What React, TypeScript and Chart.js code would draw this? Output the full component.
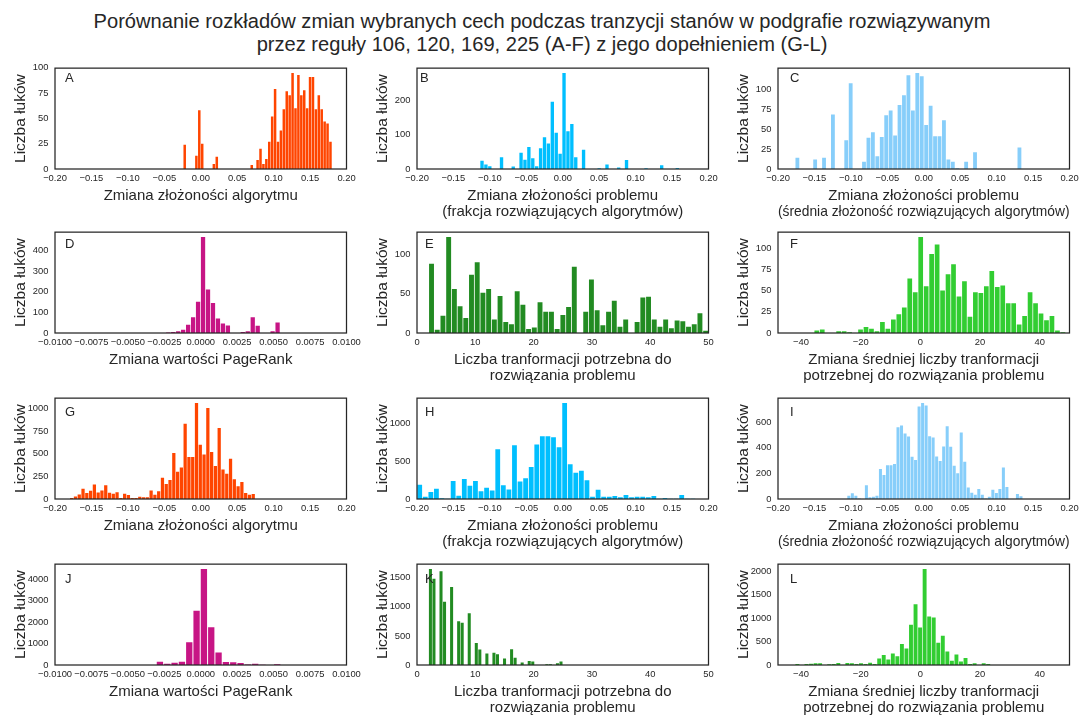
import React, { useEffect, useRef } from "react";
import { Chart, registerables } from "chart.js";

Chart.register(...registerables);

const FONT = "'Liberation Sans', Arial, 'DejaVu Sans', sans-serif";
const TEXT = "#262626";
const FRAME = "#262626";

// ---------- texts ----------
const figureTitle = [
  "Porównanie rozkładów zmian wybranych cech podczas tranzycji stanów w podgrafie rozwiązywanym",
  "przez reguły 106, 120, 169, 225 (A-F) z jego dopełnieniem (G-L)",
];
const yLabel = "Liczba łuków";
const xLabelAlg = ["Zmiana złożoności algorytmu"];
const xLabelFrac = ["Zmiana złożoności problemu", "(frakcja rozwiązujących algorytmów)"];
const xLabelMean = ["Zmiana złożoności problemu", "(średnia złożoność rozwiązujących algorytmów)"];
const xLabelPR = ["Zmiana wartości PageRank"];
const xLabelSteps = ["Liczba tranformacji potrzebna do", "rozwiązania problemu"];
const xLabelStepsDelta = ["Zmiana średniej liczby tranformacji", "potrzebnej do rozwiązania problemu"];

// ---------- tick labels ----------
const ticksDelta = [-0.2, -0.15, -0.1, -0.05, 0, 0.05, 0.1, 0.15, 0.2];
const ticksPR = [-0.01, -0.0075, -0.005, -0.0025, 0, 0.0025, 0.005, 0.0075, 0.01];
const ticksSteps = [0, 10, 20, 30, 40, 50];
const ticksStepsDelta = [-40, -20, 0, 20, 40];

const yTicksA = [0, 25, 50, 75, 100];
const yTicksB = [0, 100, 200];
const yTicksC = [0, 25, 50, 75, 100];
const yTicksD = [0, 100, 200, 300, 400];
const yTicksE = [0, 50, 100];
const yTicksF = [0, 25, 50, 75, 100];
const yTicksG = [0, 250, 500, 750, 1000];
const yTicksH = [0, 500, 1000];
const yTicksI = [0, 200, 400, 600];
const yTicksJ = [0, 1000, 2000, 3000, 4000];
const yTicksK = [0, 500, 1000, 1500];
const yTicksL = [0, 500, 1000, 1500, 2000];

// ---------- histogram data (first bin centre, bin width, counts) ----------
const binStartA = -0.022, binWidthA = 0.004;
const countsA = [24,0,0,0,13,58,25,0,0,0,5,12,0,0,0,0,0,0,0,0,0,0,0,4,0,9,20,5,10,27,52,79,27,38,59,77,73,95,60,93,73,78,60,91,91,59,73,59,47,45,27];

const binStartB = -0.1108, binWidthB = 0.00536;
const countsB = [24,13,8,0,0,34,0,0,7,0,47,27,64,31,8,60,92,74,195,105,44,279,110,131,34,0,56,0,0,0,2,0,13,0,0,4,0,26,0,0,0,0,2,0,0,0,11,0,0,0,3];

const binStartC = -0.1734, binWidthC = 0.006094;
const countsC = [14,0,0,0,12,0,14,0,68,0,0,36,107,0,0,9,39,46,16,40,67,73,42,80,92,117,73,120,116,55,79,41,41,61,12,9,1,0,9,0,21,0,0,0,0,0,0,0,0,0,27];

const binStartD = -0.00223, binWidthD = 0.000341;
const countsD = [3,5,8,16,40,77,152,467,211,146,70,46,37,0,0,5,8,77,35,0,0,8,51];

const binStartE = 2.49, binWidthE = 0.9796;
const countsE = [88,4,22,122,56,34,19,74,90,51,56,17,47,14,11,53,36,5,7,39,27,27,5,23,33,84,0,27,68,29,10,27,41,8,17,0,14,45,46,17,8,17,6,16,15,8,11,25,3];

const binStartF = -34.7, binWidthF = 1.833;
const countsF = [3,4,0,0,2,2,1,0,4,7,5,2,13,5,16,22,30,64,48,113,55,93,104,50,69,81,43,61,19,48,47,55,73,54,56,35,35,10,20,48,35,23,15,20,3,1];

const binStartG = -0.1771, binWidthG = 0.00519;
const countsG = [11,29,51,113,65,91,160,73,95,153,69,58,76,11,58,44,11,11,25,18,18,95,47,87,236,167,211,509,302,349,833,465,465,1062,600,491,1007,520,364,785,327,280,444,218,142,189,65,47,55];

const binStartH = -0.1963, binWidthH = 0.00765;
const countsH = [187,30,91,135,9,4,239,43,265,174,239,104,148,113,657,183,126,709,230,274,422,722,830,830,817,683,1270,461,348,374,248,30,122,30,30,39,22,52,22,30,30,22,39,4,13,4,4,52,4,4];

const binStartI = -0.1028, binWidthI = 0.00482;
const countsI = [26,44,26,3,0,108,13,18,26,234,188,263,263,273,559,574,510,487,330,304,721,749,729,489,479,332,296,410,567,407,260,201,518,291,90,49,33,77,33,3,18,72,46,77,245,93,0,0,39,21];

const binStartJ = -0.002801, binWidthJ = 0.000503;
const countsJ = [154,60,108,154,1062,2538,4492,1769,585,138,123,92,20,60,10,0,31];

const binStartK = 2.3026, binWidthK = 0.6053;
const countsK = [1652,1483,0,1613,1087,0,1341,0,753,725,0,889,0,379,266,0,198,0,209,187,0,113,0,272,125,0,45,0,68,62,0,0,0,11,11,0,28,62];

const binStartL = -41.2, binWidthL = 1.523;
const countsL = [21,0,21,28,35,35,0,14,21,42,0,42,35,21,35,21,49,21,140,211,119,246,189,449,351,856,1298,800,2049,1032,1011,477,625,288,91,225,77,147,21,35,0,35,21];

// ---------- colours ----------
const cOrange = "#FF4500";
const cDeepSky = "#00BFFF";
const cLightSky = "#87CEFA";
const cViolet = "#C71585";
const cForest = "#228B22";
const cLime = "#32CD32";

// ---------- layout ----------
const PAD_L = 50;
const PAD_T = 10;
const BOX_W = 291.5;
const BOX_H = 103;
const TICK_SIZE = 9.4;
const colLeft = [55, 417, 778];
const rowTop = [66, 230, 396, 562];
const colCanvasW = [362, 362, 356];
const letterDx = [10, 8, 12];
const letterDy = [14.3, 16.3, 18.3, 19.3];

type Panel = {
  letter: string;
  color: string;
  binStart: number;
  binWidth: number;
  counts: number[];
  xMin: number;
  xMax: number;
  xTicks: number[];
  xDec: number;
  yTicks: number[];
  xLabel: string[];
  row: number;
  col: number;
  ldx?: number;
};

const panels: Panel[] = [
  { letter: "A", color: cOrange, binStart: binStartA, binWidth: binWidthA, counts: countsA, xMin: -0.2, xMax: 0.2, xTicks: ticksDelta, xDec: 2, yTicks: yTicksA, xLabel: xLabelAlg, row: 0, col: 0 },
  { letter: "B", color: cDeepSky, binStart: binStartB, binWidth: binWidthB, counts: countsB, xMin: -0.2, xMax: 0.2, xTicks: ticksDelta, xDec: 2, yTicks: yTicksB, xLabel: xLabelFrac, row: 0, col: 1, ldx: 3 },
  { letter: "C", color: cLightSky, binStart: binStartC, binWidth: binWidthC, counts: countsC, xMin: -0.2, xMax: 0.2, xTicks: ticksDelta, xDec: 2, yTicks: yTicksC, xLabel: xLabelMean, row: 0, col: 2 },
  { letter: "D", color: cViolet, binStart: binStartD, binWidth: binWidthD, counts: countsD, xMin: -0.01, xMax: 0.01, xTicks: ticksPR, xDec: 4, yTicks: yTicksD, xLabel: xLabelPR, row: 1, col: 0 },
  { letter: "E", color: cForest, binStart: binStartE, binWidth: binWidthE, counts: countsE, xMin: 0, xMax: 50, xTicks: ticksSteps, xDec: 0, yTicks: yTicksE, xLabel: xLabelSteps, row: 1, col: 1 },
  { letter: "F", color: cLime, binStart: binStartF, binWidth: binWidthF, counts: countsF, xMin: -47.7, xMax: 50, xTicks: ticksStepsDelta, xDec: 0, yTicks: yTicksF, xLabel: xLabelStepsDelta, row: 1, col: 2 },
  { letter: "G", color: cOrange, binStart: binStartG, binWidth: binWidthG, counts: countsG, xMin: -0.2, xMax: 0.2, xTicks: ticksDelta, xDec: 2, yTicks: yTicksG, xLabel: xLabelAlg, row: 2, col: 0 },
  { letter: "H", color: cDeepSky, binStart: binStartH, binWidth: binWidthH, counts: countsH, xMin: -0.2, xMax: 0.2, xTicks: ticksDelta, xDec: 2, yTicks: yTicksH, xLabel: xLabelFrac, row: 2, col: 1 },
  { letter: "I", color: cLightSky, binStart: binStartI, binWidth: binWidthI, counts: countsI, xMin: -0.2, xMax: 0.2, xTicks: ticksDelta, xDec: 2, yTicks: yTicksI, xLabel: xLabelMean, row: 2, col: 2 },
  { letter: "J", color: cViolet, binStart: binStartJ, binWidth: binWidthJ, counts: countsJ, xMin: -0.01, xMax: 0.01, xTicks: ticksPR, xDec: 4, yTicks: yTicksJ, xLabel: xLabelPR, row: 3, col: 0 },
  { letter: "K", color: cForest, binStart: binStartK, binWidth: binWidthK, counts: countsK, xMin: 0, xMax: 50, xTicks: ticksSteps, xDec: 0, yTicks: yTicksK, xLabel: xLabelSteps, row: 3, col: 1 },
  { letter: "L", color: cLime, binStart: binStartL, binWidth: binWidthL, counts: countsL, xMin: -47.7, xMax: 50, xTicks: ticksStepsDelta, xDec: 0, yTicks: yTicksL, xLabel: xLabelStepsDelta, row: 3, col: 2 },
];

function fmtTick(v: number, dec: number): string {
  const s = Math.abs(v).toFixed(dec);
  return (v < -1e-12 ? "\u2212" : "") + s;
}

function PanelChart({ p }: { p: Panel }) {
  const ref = useRef<HTMLCanvasElement>(null);
  const padB = p.xLabel.length > 1 ? 55 : 39;
  const W = colCanvasW[p.col];
  const padR = W - PAD_L - BOX_W;
  const H = PAD_T + BOX_H + padB;

  useEffect(() => {
    if (!ref.current) return;
    const data = p.counts.map((c, i) => ({ x: p.binStart + i * p.binWidth, y: c }));
    const yMax = Math.max(...p.counts) * 1.05;
    const ldx = p.ldx !== undefined ? p.ldx : letterDx[p.col];
    const ldy = letterDy[p.row];
    const decor = {
      id: "decor" + p.letter,
      afterDatasetsDraw(chart: any) {
        const { ctx, chartArea: a } = chart;
        ctx.save();
        ctx.strokeStyle = FRAME;
        ctx.lineWidth = 1.25;
        ctx.strokeRect(a.left, a.top, a.right - a.left, a.bottom - a.top);
        ctx.fillStyle = TEXT;
        ctx.font = `13px ${FONT}`;
        ctx.textAlign = "left";
        ctx.textBaseline = "alphabetic";
        ctx.fillText(p.letter, a.left + ldx, a.top + ldy);
        ctx.restore();
      },
    };
    const chart = new Chart(ref.current, {
      type: "bar",
      data: {
        datasets: [
          {
            data: data as any,
            backgroundColor: p.color,
            borderWidth: 0,
            barPercentage: 0.86,
            categoryPercentage: 1,
          },
        ],
      },
      options: {
        animation: false,
        responsive: false,
        devicePixelRatio: 1,
        layout: { padding: { left: 0, right: padR, top: PAD_T, bottom: 0 } },
        plugins: {
          legend: { display: false },
          tooltip: { enabled: false },
          title: { display: false },
        },
        scales: {
          x: {
            type: "linear",
            min: p.xMin,
            max: p.xMax,
            offset: false,
            bounds: "data",
            grid: { display: false, drawTicks: false },
            border: { display: false },
            ticks: {
              font: { family: FONT, size: TICK_SIZE },
              color: TEXT,
              padding: 4.2,
              autoSkip: false,
              maxRotation: 0,
              minRotation: 0,
              callback: (v: any) => fmtTick(Number(v), p.xDec),
            },
            afterBuildTicks: (s: any) => {
              s.ticks = p.xTicks.map((v) => ({ value: v }));
            },
            afterFit: (s: any) => {
              s.height = padB;
            },
            title: {
              display: true,
              text: p.xLabel,
              font: { family: FONT, size: 15, lineHeight: 16 / 15 },
              color: TEXT,
              padding: { top: 0, bottom: 4 },
            },
          },
          y: {
            type: "linear",
            min: 0,
            max: yMax,
            bounds: "data",
            grid: { display: false, drawTicks: false },
            border: { display: false },
            ticks: {
              font: { family: FONT, size: TICK_SIZE },
              color: TEXT,
              padding: 6.5,
              callback: (v: any) => String(Math.round(Number(v))),
            },
            afterBuildTicks: (s: any) => {
              s.ticks = p.yTicks.map((v) => ({ value: v }));
            },
            afterFit: (s: any) => {
              s.width = PAD_L;
            },
            title: {
              display: true,
              text: yLabel,
              font: { family: FONT, size: 15.5, lineHeight: 1.2 },
              color: TEXT,
              padding: { top: 6.2, bottom: 0 },
            },
          },
        },
      } as any,
      plugins: [decor],
    });
    return () => chart.destroy();
  }, []);

  return (
    <div
      style={{
        position: "absolute",
        left: colLeft[p.col] - PAD_L,
        top: rowTop[p.row] - PAD_T,
        width: W,
        height: H,
      }}
    >
      <canvas ref={ref} width={W} height={H} style={{ display: "block", width: W, height: H }} />
    </div>
  );
}

export default function App() {
  return (
    <div
      style={{
        position: "absolute",
        left: 0,
        top: 0,
        width: 1084,
        height: 715,
        overflow: "hidden",
        background: "#ffffff",
      }}
    >
      <div
        style={{
          position: "absolute",
          left: 0,
          top: 10,
          width: 1084,
          textAlign: "center",
          fontFamily: FONT,
          fontSize: 20.1,
          lineHeight: "23px",
          color: TEXT,
          whiteSpace: "nowrap",
        }}
      >
        {figureTitle.map((t, i) => (
          <div key={i}>{t}</div>
        ))}
      </div>
      {panels.map((p) => (
        <PanelChart key={p.letter} p={p} />
      ))}
    </div>
  );
}
